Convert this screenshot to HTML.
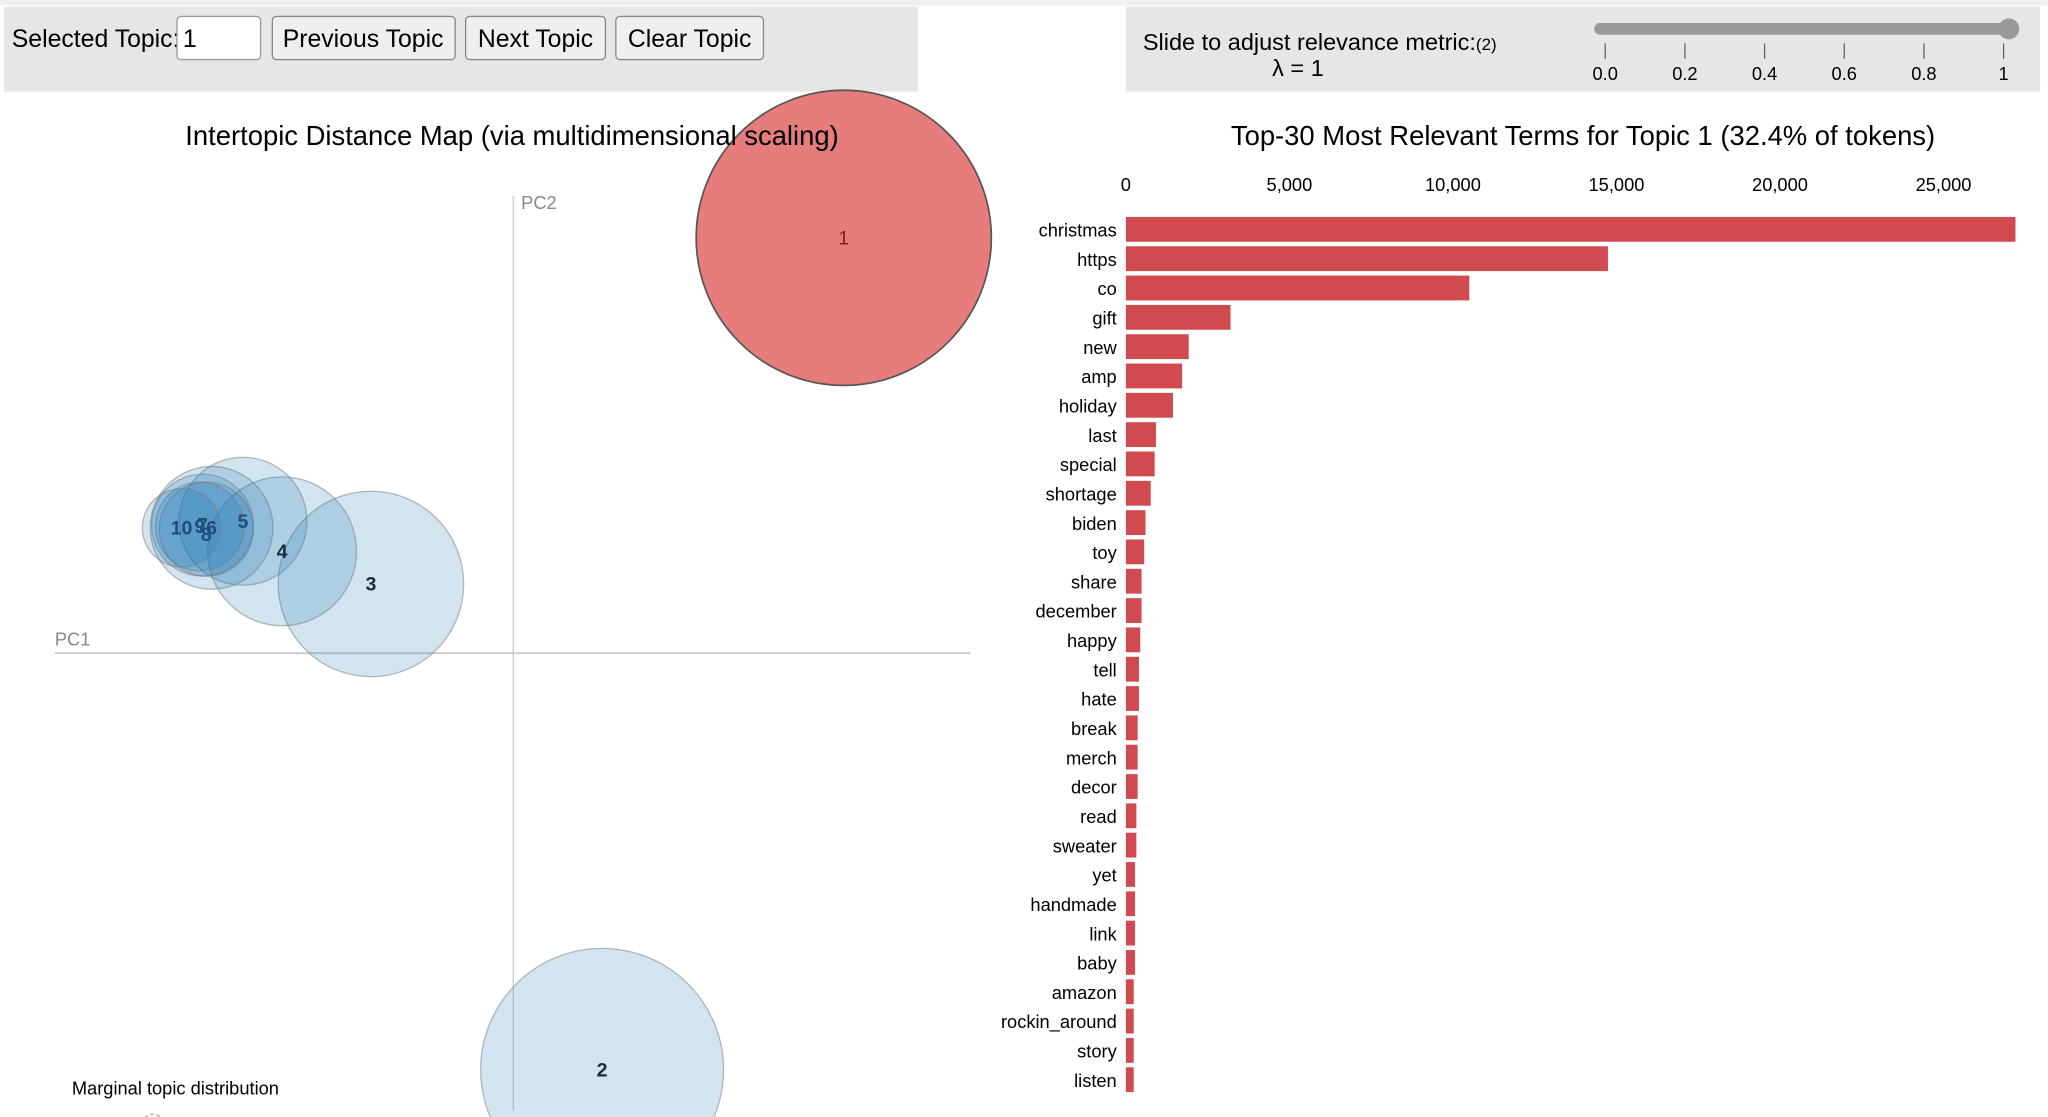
<!DOCTYPE html>
<html><head><meta charset="utf-8">
<style>
html,body{margin:0;padding:0;background:#fff;overflow:hidden;width:2048px;height:1117px;}
svg{display:block;overflow:hidden;font-family:"Liberation Sans",Arial,sans-serif;}
</style></head>
<body>
<svg id="root" width="2048" height="1117" viewBox="0 0 1568 855" xmlns="http://www.w3.org/2000/svg">
<defs>
<radialGradient id="shadow" cx="0.5" cy="1" r="0.5">
<stop offset="0" stop-color="#000" stop-opacity="0.10"/>
<stop offset="1" stop-color="#000" stop-opacity="0"/>
</radialGradient>
<clipPath id="frame"><rect x="0" y="0" width="1568" height="855"/></clipPath>
</defs>
<g clip-path="url(#frame)">
<rect x="0" y="0" width="1568" height="4" fill="#efefef"/>
<ellipse cx="760" cy="860" rx="330" ry="50" fill="url(#shadow)"/>

<g>
<rect x="3" y="5" width="700" height="65" fill="#e6e6e6"/>
<text x="9" y="36" font-size="19" fill="#000">Selected Topic:</text>
<rect x="135.5" y="12.5" width="64" height="33" rx="3" fill="#fff" stroke="#999"/>
<text x="140" y="36" font-size="19">1</text>
<g><rect x="208.5" y="12.5" width="140" height="33" rx="3" fill="#efefef" stroke="#888"/><text x="278" y="36" font-size="19" text-anchor="middle">Previous Topic</text></g>
<g><rect x="356.5" y="12.5" width="107" height="33" rx="3" fill="#efefef" stroke="#888"/><text x="410" y="36" font-size="19" text-anchor="middle">Next Topic</text></g>
<g><rect x="471.5" y="12.5" width="113" height="33" rx="3" fill="#efefef" stroke="#888"/><text x="528" y="36" font-size="19" text-anchor="middle">Clear Topic</text></g>
</g>

<g>
<rect x="862" y="5" width="700" height="65" fill="#e6e6e6"/>
<text x="875" y="38" font-size="18">Slide to adjust relevance metric:<tspan font-size="13">(2)</tspan></text>
<text x="974" y="58" font-size="18">λ = 1</text>
<line x1="1225" y1="22" x2="1538" y2="22" stroke="#999" stroke-width="9" stroke-linecap="round"/>
<circle cx="1538" cy="22" r="8" fill="#999"/>
<g id="sliderTicks" font-size="14" text-anchor="middle" fill="#000"></g>
</g>

<line x1="393" y1="150" x2="393" y2="850" stroke="#ccc"/>
<line x1="42" y1="500" x2="743" y2="500" stroke="#ccc" stroke-width="1.5"/>
<text x="399" y="160" font-size="14" fill="#888">PC2</text>
<text x="42" y="494" font-size="14" fill="#888">PC1</text>
<g id="circles"></g>
<g id="circleLabels" font-weight="bold" font-size="15" text-anchor="middle"></g>
<text x="392" y="111" font-size="21" text-anchor="middle">Intertopic Distance Map (via multidimensional scaling)</text>
<text x="55" y="838" font-size="14">Marginal topic distribution</text>
<circle cx="117" cy="862" r="9" fill="none" stroke="#aaa" stroke-dasharray="3 2"/>

<text x="1212" y="111" font-size="21" text-anchor="middle">Top-30 Most Relevant Terms for Topic 1 (32.4% of tokens)</text>
<g id="xTicks" font-size="14" text-anchor="middle"></g>
<g id="bars"></g>
<g id="termLabels" font-size="14" text-anchor="end"></g>
</g>
</svg>
<script>
const NS="http://www.w3.org/2000/svg";
const topicIds=[1,2,3,4,5,6,7,8,9,10];
const topicX=[646,461,284,216,186,162,155,158,153,139];
const topicY=[182,819,447,422,399,404,402,405,403,404];
const topicR=[113,93,71,57,49,47,39,36,34,30];
const terms=["christmas","https","co","gift","new","amp","holiday","last","special","shortage","biden","toy","share","december","happy","tell","hate","break","merch","decor","read","sweater","yet","handmade","link","baby","amazon","rockin_around","story","listen"];
const termValues=[27200,14740,10500,3200,1920,1720,1440,920,880,760,600,560,480,480,440,400,400,360,360,360,320,320,280,280,280,280,240,240,240,240];
const xTickValues=[0,5000,10000,15000,20000,25000];
const xTickLabels=["0","5,000","10,000","15,000","20,000","25,000"];
const sliderValues=[0,0.2,0.4,0.6,0.8,1];
const sliderLabels=["0.0","0.2","0.4","0.6","0.8","1"];

function mk(tag,attrs,parent){const e=document.createElementNS(NS,tag);for(const k in attrs)e.setAttribute(k,attrs[k]);parent.appendChild(e);return e;}
const xScale=v=>862+v*(626/25000);
const sScale=v=>1229+v*(1534-1229);
const barTop=i=>166+i*22.45;

const st=document.getElementById('sliderTicks');
sliderValues.forEach((v,i)=>{
  const l=mk('line',{x1:sScale(v),x2:sScale(v),y1:33,y2:45,stroke:'#666'},st);
  
  
  const t=mk('text',{x:sScale(v),y:61},st);t.textContent=sliderLabels[i];
  
  
});

const cg=document.getElementById('circles'),lg=document.getElementById('circleLabels');
topicIds.forEach((id,i)=>{
  const sel=id===1;
  const c=mk('circle',{cx:topicX[i],cy:topicY[i],r:topicR[i],fill:sel?'#e77c7c':'#1f77b4','fill-opacity':sel?1:0.2,stroke:sel?'#555':'#777','stroke-opacity':sel?1:0.5,'stroke-width':sel?1.3:1},cg);
  
  
});
topicIds.forEach((id,i)=>{
  const t=mk('text',{x:topicX[i],y:topicY[i]+5+(id===8?4:0),fill:id===1?'#8b1a1a':(id>=5?'#1f4e79':'#1a2a3a'),'font-weight':id===1?'normal':'bold'},lg);
  t.textContent=id;
  
  
});

const xt=document.getElementById('xTicks');
xTickValues.forEach((v,i)=>{
  const t=mk('text',{x:xScale(v),y:146},xt);t.textContent=xTickLabels[i];
  
  
});
const bg=document.getElementById('bars'),tl=document.getElementById('termLabels');
terms.forEach((term,i)=>{
  const r=mk('rect',{x:862,y:barTop(i),width:xScale(termValues[i])-862,height:19,fill:'#d04a50'},bg);
  
  
  const t=mk('text',{x:855,y:barTop(i)+15},tl);t.textContent=term;
  
  
});
</script>
</body></html>
